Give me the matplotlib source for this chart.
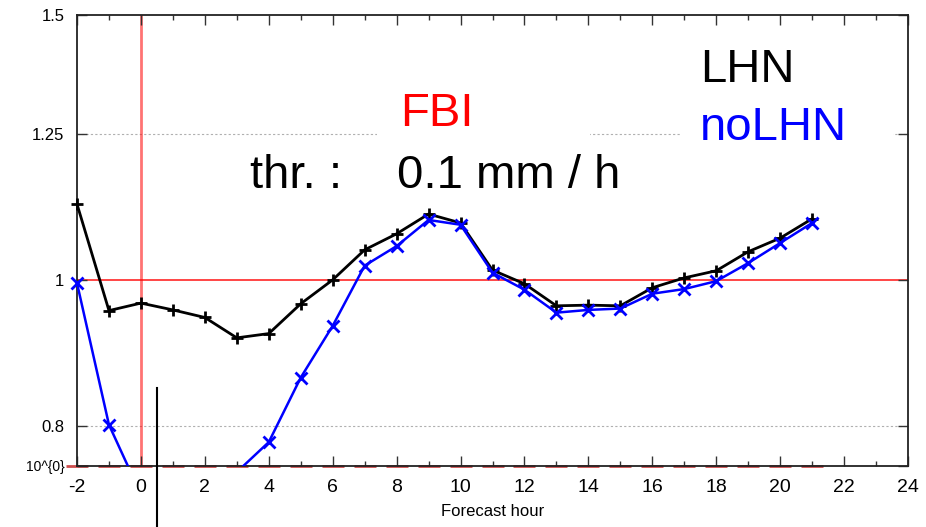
import matplotlib
matplotlib.use("Agg")
import matplotlib.pyplot as plt
import numpy as np
from matplotlib.ticker import FixedLocator, NullLocator, FixedFormatter
from matplotlib.lines import Line2D
from matplotlib.patches import Rectangle

plt.rcParams['font.family'] = ['Liberation Sans', 'DejaVu Sans']
plt.rcParams['axes.unicode_minus'] = False

hours = list(range(-2, 22))
lhn = [1.123, 0.954, 0.965, 0.955, 0.944, 0.915, 0.921, 0.964, 1.000, 1.047,
       1.073, 1.106, 1.091, 1.015, 0.994, 0.961, 0.962, 0.961, 0.988, 1.003,
       1.014, 1.044, 1.066, 1.098]
nolhn = [0.995, 0.801, 0.720, 0.700, 0.710, 0.745, 0.780, 0.861, 0.932, 1.022,
         1.053, 1.096, 1.088, 1.011, 0.985, 0.951, 0.955, 0.957, 0.979, 0.986,
         0.998, 1.026, 1.058, 1.091]
ytick_vals = [0.752, 0.8, 1.0, 1.25, 1.5]
ytick_labels = ["10^{0}", "0.8", "1", "1.25", "1.5"]
xtick_vals = list(range(-2, 25, 2))

W, H = 926, 527
fig = plt.figure(figsize=(W / 100, H / 100), dpi=100)
ax = fig.add_axes([77 / W, 1 - 466 / H, (908 - 77) / W, (466 - 15) / H])
ax.set_yscale('log')
ymin, ymax = 0.752, 1.5
ax.set_xlim(-2, 24)
ax.set_ylim(ymin, ymax)

# grid lines
for v in [0.8, 1.25]:
    ax.axhline(v, color='#b0b0b0', lw=0.8, ls=(0, (2, 2)), zorder=0)

# red reference lines
ax.axhline(1.0, color='red', lw=1.2, alpha=0.85, zorder=1)
ax.axvline(0, color='red', lw=2, alpha=0.55, zorder=1)
ax.plot(hours, [ymin] * len(hours), ls='none', marker='_', ms=16, mew=2,
        color='#c02020', alpha=0.8, clip_on=False, zorder=1)

# lines (clipped) and markers (unclipped, only inside the y range)
ax.plot(hours, lhn, color='black', lw=2, zorder=3)
ax.plot(hours, np.ma.masked_less(lhn, ymin), ls='none', color='black',
        marker='+', ms=9, mew=2, zorder=3, clip_on=False)
ax.plot(hours, nolhn, color='#0000ff', lw=1.8, zorder=4)
ax.plot(hours, np.ma.masked_less(nolhn, ymin), ls='none', color='#0000ff',
        marker='x', ms=8, mew=2, zorder=4, clip_on=False)

ax.yaxis.set_major_locator(FixedLocator(ytick_vals))
ax.yaxis.set_major_formatter(FixedFormatter(ytick_labels))
ax.yaxis.set_minor_locator(NullLocator())
ax.set_xticks(xtick_vals)
ax.set_xticks(list(range(-1, 24, 2)), minor=True)
ax.tick_params(axis='both', which='major', direction='in', top=True, right=True,
               length=7, width=1, color='#333333')
ax.tick_params(axis='x', which='minor', direction='in', top=True, length=3.5, width=1,
               color='#333333')
ax.tick_params(axis='y', labelsize=12, pad=9)
ax.tick_params(axis='x', labelsize=14, pad=9)
for lab in ax.get_yticklabels():
    if lab.get_text() == "10^{0}":
        lab.set_fontsize(10)
for s in ax.spines.values():
    s.set_color('#222222')
    s.set_linewidth(1.3)

ax.set_xlabel("Forecast hour", fontsize=12, labelpad=6)

# white label boxes that hide parts of the 1.25 grid line
for x0, x1 in [(377, 590), (680, 893)]:
    fig.add_artist(Rectangle((x0 / W, 1 - 138 / H), (x1 - x0) / W, 10 / H,
                             facecolor='white', edgecolor='none', zorder=2))

def ftext(x, y, s, **kw):
    fig.text(x / W, 1 - y / H, s, va='baseline', ha='left', zorder=5, **kw)

ftext(400, 126, "FBI", color='red', fontsize=34)
ftext(250, 188, "thr. :", color='black', fontsize=34)
ftext(397, 188, "0.1 mm / h", color='black', fontsize=34)
ftext(700, 82, "LHN", color='black', fontsize=34)
ftext(700, 140, "noLHN", color='#0000ff', fontsize=34)

# stray vertical stroke below the plot
fig.add_artist(Line2D([157 / W, 157 / W], [1 - 388 / H, 0], color='black', lw=1.5))

fig.savefig("out.png", dpi=100)
